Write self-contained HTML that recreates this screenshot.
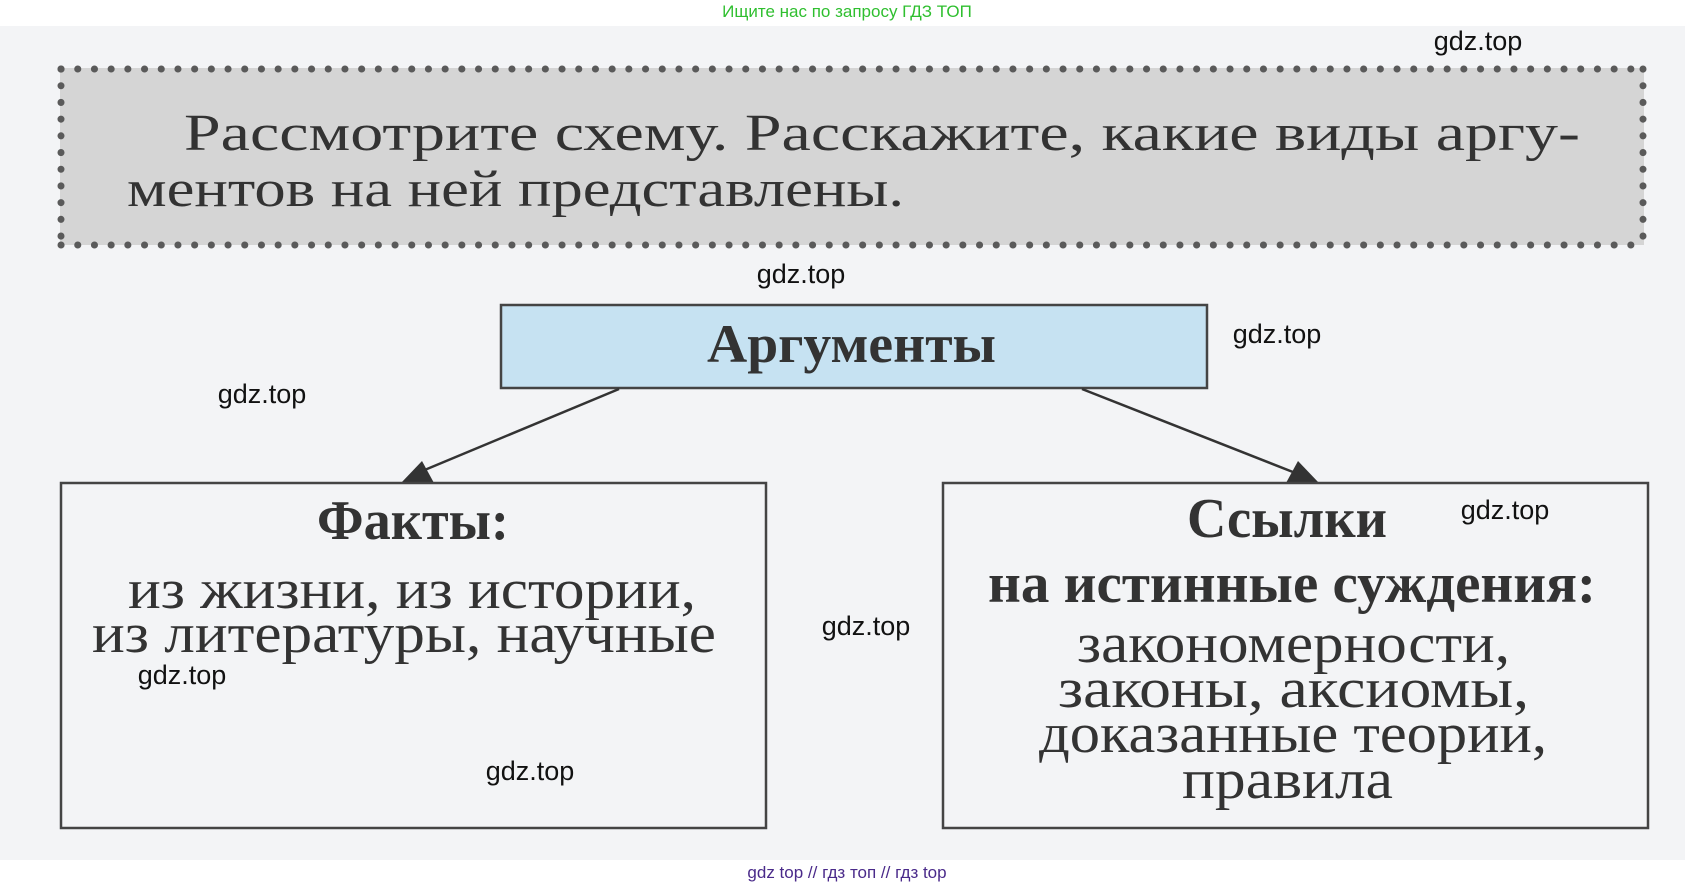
<!DOCTYPE html>
<html><head><meta charset="utf-8"><style>
html,body{margin:0;padding:0;background:#fff;}
svg{display:block}
</style></head><body>
<svg width="1697" height="888" viewBox="0 0 1697 888" xmlns="http://www.w3.org/2000/svg">
<rect x="0" y="26" width="1685" height="834" fill="#f3f4f6"/>
<rect x="60" y="68" width="1584" height="177" fill="#d5d5d5"/>
<g>
<line x1="61" y1="69" x2="1643" y2="69" stroke="#5a5a5a" stroke-width="7" stroke-dasharray="0.1 16.6" stroke-linecap="round"/>
<line x1="61" y1="245" x2="1643" y2="245" stroke="#5a5a5a" stroke-width="7" stroke-dasharray="0.1 16.6" stroke-linecap="round"/>
<line x1="61" y1="69" x2="61" y2="245" stroke="#5a5a5a" stroke-width="7" stroke-dasharray="0.1 16.6" stroke-linecap="round"/>
<line x1="1643" y1="69" x2="1643" y2="245" stroke="#5a5a5a" stroke-width="7" stroke-dasharray="0.1 16.6" stroke-linecap="round"/>
</g>
<g font-family="Liberation Serif, serif" fill="#333" font-size="52">
<text x="184" y="150" textLength="1396" lengthAdjust="spacingAndGlyphs">Рассмотрите  схему.  Расскажите,  какие  виды  аргу-</text>
<text x="127" y="206" textLength="777" lengthAdjust="spacingAndGlyphs">ментов  на  ней  представлены.</text>
</g>
<rect x="501" y="305" width="706" height="83" fill="#c6e2f2" stroke="#444" stroke-width="2.5"/>
<text x="707" y="362" textLength="289" lengthAdjust="spacingAndGlyphs" font-family="Liberation Serif, serif" font-weight="bold" font-size="54" fill="#333">Аргументы</text>
<line x1="619" y1="389" x2="415" y2="474" stroke="#333" stroke-width="2.5"/>
<polygon points="401,483 434,483 422,461" fill="#333"/>
<line x1="1082" y1="389" x2="1298" y2="474" stroke="#333" stroke-width="2.5"/>
<polygon points="1286,483 1319,483 1298,461" fill="#333"/>
<rect x="61" y="483" width="705" height="345" fill="none" stroke="#444" stroke-width="2.5"/>
<g font-family="Liberation Serif, serif" fill="#333" font-size="56">
<text x="317" y="539" textLength="192" lengthAdjust="spacingAndGlyphs" font-weight="bold">Факты:</text>
<text x="128" y="608" textLength="568" lengthAdjust="spacingAndGlyphs">из жизни, из истории,</text>
<text x="92" y="652" textLength="624" lengthAdjust="spacingAndGlyphs">из литературы, научные</text>
</g>
<rect x="943" y="483" width="705" height="345" fill="none" stroke="#444" stroke-width="2.5"/>
<g font-family="Liberation Serif, serif" fill="#333" font-size="56">
<text x="1187" y="537" textLength="200" lengthAdjust="spacingAndGlyphs" font-weight="bold">Ссылки</text>
<text x="988" y="602" textLength="608" lengthAdjust="spacingAndGlyphs" font-weight="bold">на истинные суждения:</text>
<text x="1077" y="662" textLength="433" lengthAdjust="spacingAndGlyphs">закономерности,</text>
<text x="1058" y="707" textLength="471" lengthAdjust="spacingAndGlyphs">законы, аксиомы,</text>
<text x="1039" y="752" textLength="508" lengthAdjust="spacingAndGlyphs">доказанные теории,</text>
<text x="1182" y="798" textLength="211" lengthAdjust="spacingAndGlyphs">правила</text>
</g>
<g font-family="Liberation Sans, sans-serif" font-size="27" fill="#111" text-anchor="middle">
<text x="1478" y="50">gdz.top</text>
<text x="801" y="283">gdz.top</text>
<text x="1277" y="343">gdz.top</text>
<text x="262" y="403">gdz.top</text>
<text x="1505" y="519">gdz.top</text>
<text x="866" y="635">gdz.top</text>
<text x="182" y="684">gdz.top</text>
<text x="530" y="780">gdz.top</text>
</g>
<text x="847" y="17" text-anchor="middle" font-family="Liberation Sans, sans-serif" font-size="17" fill="#2fbf2f">Ищите нас по запросу ГДЗ ТОП</text>
<text x="847" y="878" text-anchor="middle" font-family="Liberation Sans, sans-serif" font-size="17" fill="#4a2a8a">gdz top  //  гдз топ  //  гдз top</text>
</svg>
</body></html>
